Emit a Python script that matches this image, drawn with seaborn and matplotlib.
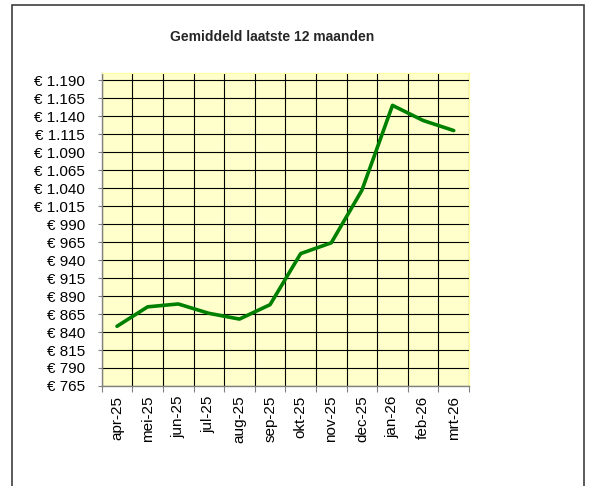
import numpy as np
import pandas as pd
import matplotlib
matplotlib.use("Agg")
import matplotlib.pyplot as plt
import seaborn as sns
from matplotlib.patches import Rectangle
from matplotlib.ticker import FuncFormatter, MultipleLocator

months = ["apr-25", "mei-25", "jun-25", "jul-25", "aug-25", "sep-25",
          "okt-25", "nov-25", "dec-25", "jan-26", "feb-26", "mrt-26"]
average = [848, 875, 879, 866, 858, 878, 949, 964, 1037, 1155, 1134, 1120]

df = pd.DataFrame({"maand": months, "gemiddeld": average})

sns.set_theme(style="white")
plt.rcParams["font.family"] = ["Liberation Sans", "DejaVu Sans"]

fig = plt.figure(figsize=(5.89, 4.86), dpi=100)
ax = fig.add_axes([0.1727, 0.2058, 0.6236, 0.644])
ax.set_facecolor("#ffffcc")

sns.lineplot(data=df, x="maand", y="gemiddeld", ax=ax, color="#008000",
             linewidth=2.6, sort=False, zorder=3)

ax.set_xlim(-0.5, len(months) - 0.5)
ax.set_ylim(765, 1200)

# y axis: euro labels with dot as thousands separator
def euro(v, pos):
    return "€ " + f"{int(round(v)):,}".replace(",", ".")

ax.set_yticks(np.arange(765, 1191, 25))
ax.yaxis.set_major_formatter(FuncFormatter(euro))
ax.tick_params(axis="y", length=3, width=0.8, color="#808080", direction="out",
               left=True, labelsize=11, pad=9, labelcolor="black")

# x axis: labels at category centres, ticks and grid at category borders
ax.set_xticks(range(len(months)))
ax.set_xticklabels(months, rotation=90)
ax.tick_params(axis="x", which="major", length=0, labelsize=11, pad=7,
               labelcolor="black")
ax.xaxis.set_minor_locator(MultipleLocator(1, offset=0.5))
ax.tick_params(axis="x", which="minor", length=4, width=0.8, color="#808080",
               direction="out", bottom=True)

ax.grid(False)
ax.yaxis.grid(True, color="black", linewidth=0.8)
ax.xaxis.grid(True, which="minor", color="black", linewidth=0.8)
ax.set_axisbelow(True)

for side in ["top", "right"]:
    ax.spines[side].set_color("#ffff99")
    ax.spines[side].set_linewidth(0.8)
for side in ["left", "bottom"]:
    ax.spines[side].set_color("#808080")
    ax.spines[side].set_linewidth(1.0)

ax.set_xlabel("")
ax.set_ylabel("")

fig.text(272 / 589, 1 - 37 / 486, "Gemiddeld laatste 12 maanden",
         ha="center", va="center", fontsize=10, fontweight="bold")

# outer chart border
fig.patches.append(Rectangle((12 / 589, -0.05), (584 - 12) / 589,
                             1.05 - 5 / 486, transform=fig.transFigure,
                             fill=False, edgecolor="#404040", linewidth=1.2))

fig.savefig("out.png", dpi=100)
